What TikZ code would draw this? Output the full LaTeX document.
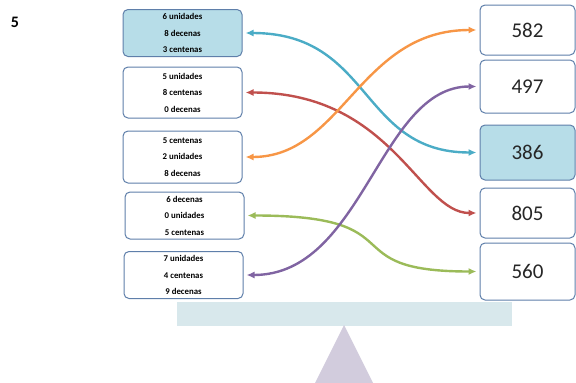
\documentclass[tikz,border=0pt]{standalone}
\usepackage{fontspec}
\setmainfont{Carlito}
\usepackage{tikz}
\usetikzlibrary{positioning,arrows.meta}
\definecolor{boxline}{HTML}{5F7FAA}
\definecolor{boxfill}{HTML}{B7DDE8}
\definecolor{lnteal}{HTML}{4BACC6}
\definecolor{lnred}{HTML}{C0504D}
\definecolor{lnorange}{HTML}{F79646}
\definecolor{lngreen}{HTML}{9BBB59}
\definecolor{lnpurple}{HTML}{8064A2}
\definecolor{beamfill}{HTML}{D8E8EC}
\definecolor{pivotfill}{HTML}{D2CCDD}
\tikzset{
  linkarrow/.style={{Latex[length=8pt,width=7pt]}-{Latex[length=8pt,width=7pt]}, line width=2.4pt, shorten <=3pt, shorten >=3pt},
  wordbox/.style={draw=boxline, rounded corners=5pt, line width=1pt, fill=white, minimum width=119pt, minimum height=47pt, align=center, inner sep=0pt, font=\fontsize{8.8}{16.5}\selectfont\bfseries},
  numbox/.style={draw=boxline, rounded corners=5pt, line width=1pt, fill=white, minimum width=95pt, minimum height=50pt, inner sep=0pt, font=\fontsize{21}{24}\selectfont, text=black!85},
  marked/.style={fill=boxfill}
}

\begin{document}
\begin{tikzpicture}[x=1pt, y=-1pt]
  \useasboundingbox (0,0) rectangle (576,383);
  \node[font=\fontsize{16}{18}\selectfont\bfseries] (num) at (15,22) {5};
  % seesaw
  \fill[beamfill] (177,302) rectangle (512,326);
  \fill[pivotfill] (344,325) -- (373,383) -- (315,383) -- cycle;
  % left column
  \node[wordbox, marked] (w1) at (182.5,33) {6 unidades\\8 decenas\\3 centenas};
  \node[wordbox, minimum height=51pt] (w2) at (182.5,92.5) {5 unidades\\8 centenas\\0 decenas};
  \node[wordbox, minimum height=52pt] (w3) at (182.5,157) {5 centenas\\2 unidades\\8 decenas};
  \node[wordbox] (w4) at (184.5,215.5) {6 decenas\\0 unidades\\5 centenas};
  \node[wordbox] (w5) at (183.5,275) {7 unidades\\4 centenas\\9 decenas};
  % right column
  \node[numbox] (n582) at (527.5,30) {582};
  \node[numbox, minimum height=53pt] (n497) at (527.5,86.5) {497};
  \node[numbox, marked, minimum height=55pt] (n386) at (527.5,152.5) {386};
  \node[numbox] (n805) at (527.5,213) {805};
  \node[numbox, minimum height=57pt] (n560) at (527.5,271.5) {560};
  % links
  \draw[linkarrow, lnteal] (w1.east) .. controls +(130,0) and +(-120,0) .. (n386.west);
  \draw[linkarrow, lnred] (w2.east) .. controls +(150,0) and +(-60,0) .. (n805.west);
  \draw[linkarrow, lnorange] (w3.east) .. controls +(100,0) and +(-120,0) .. (n582.west);
  \draw[linkarrow, lngreen] (w4.east) .. controls +(175,0) and +(-150,0) .. (n560.west);
  \draw[linkarrow, lnpurple] (w5.east) .. controls +(120,0) and +(-100,0) .. (n497.west);
\end{tikzpicture}
\end{document}
